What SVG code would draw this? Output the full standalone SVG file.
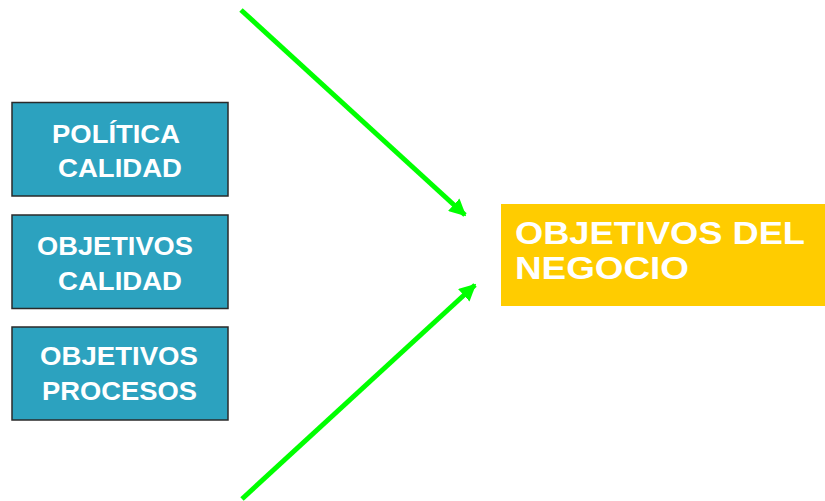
<svg xmlns="http://www.w3.org/2000/svg" width="825" height="501" viewBox="0 0 825 501">
  <defs>
    <style>
      .box { fill: #2ca2bf; stroke: #2a2a2a; stroke-width: 1.5; }
      .goal { fill: #ffcc00; }
      .lbl { font-family: "Liberation Sans", Arial, sans-serif; font-weight: bold; fill: #ffffff; }
      .small { font-size: 26px; }
      .big { font-size: 32px; }
      .arrow { stroke: #00ff00; stroke-width: 5; fill: none; stroke-linecap: butt; }
    </style>
    <marker id="head" viewBox="0 0 10 10" refX="9" refY="5" markerWidth="3.4" markerHeight="3.4" orient="auto" markerUnits="strokeWidth">
      <path d="M0,0 L10,5 L0,10 z" fill="#00ff00"/>
    </marker>
  </defs>
  <rect width="825" height="501" fill="#ffffff"/>

  <g id="connectors">
    <line class="arrow" x1="241" y1="10" x2="465" y2="215" marker-end="url(#head)"/>
    <line class="arrow" x1="242" y1="499" x2="475" y2="285" marker-end="url(#head)"/>
  </g>

  <g id="politica-calidad">
    <rect class="box" x="12" y="102.5" width="216" height="93.5"/>
    <text class="lbl small" x="52" y="142.5" textLength="128" lengthAdjust="spacingAndGlyphs">POLÍTICA</text>
    <text class="lbl small" x="58" y="176.5" textLength="124" lengthAdjust="spacingAndGlyphs">CALIDAD</text>
  </g>

  <g id="objetivos-calidad">
    <rect class="box" x="12" y="215" width="216" height="93.5"/>
    <text class="lbl small" x="37" y="254.5" textLength="156" lengthAdjust="spacingAndGlyphs">OBJETIVOS</text>
    <text class="lbl small" x="58" y="289.5" textLength="124" lengthAdjust="spacingAndGlyphs">CALIDAD</text>
  </g>

  <g id="objetivos-procesos">
    <rect class="box" x="12" y="327" width="216" height="93"/>
    <text class="lbl small" x="40" y="365" textLength="158" lengthAdjust="spacingAndGlyphs">OBJETIVOS</text>
    <text class="lbl small" x="42" y="400" textLength="155" lengthAdjust="spacingAndGlyphs">PROCESOS</text>
  </g>

  <g id="objetivos-negocio">
    <rect class="goal" x="501" y="204" width="324" height="102"/>
    <text class="lbl big" x="515" y="244" textLength="290" lengthAdjust="spacingAndGlyphs">OBJETIVOS DEL</text>
    <text class="lbl big" x="515" y="278.5" textLength="174" lengthAdjust="spacingAndGlyphs">NEGOCIO</text>
  </g>
</svg>
